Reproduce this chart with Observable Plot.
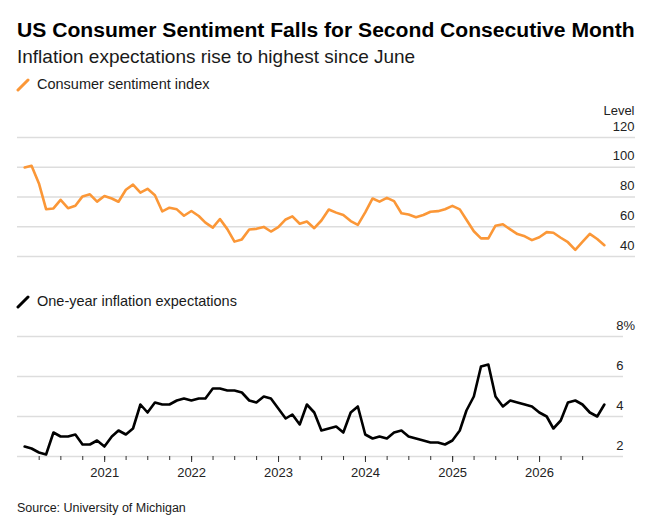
<!DOCTYPE html>
<html><head><meta charset="utf-8">
<script src="https://cdn.jsdelivr.net/npm/d3@7"></script>
<script src="https://cdn.jsdelivr.net/npm/@observablehq/plot@0.6"></script>
<style>
body{margin:0;background:#fff;font-family:"Liberation Sans",Arial,sans-serif;color:#111;}
#wrap{position:relative;width:645px;height:525px;overflow:hidden;}
.abs{position:absolute;left:17px;white-space:nowrap;line-height:1;}
#title{top:18.9px;font-size:21.1px;font-weight:bold;color:#000;}
#subtitle{top:47.2px;font-size:19px;color:#1a1a1a;}
.leg{font-size:14.5px;color:#1a1a1a;left:37px;}
#leg1{top:77px;}
#leg2{top:293.7px;}
#source{top:502px;font-size:12.5px;color:#1a1a1a;}
.sw{position:absolute;left:16px;}
#topChart{position:absolute;left:0;top:95px;}
#botChart{position:absolute;left:0;top:316px;}
</style></head>
<body><div id="wrap">
<div id="title" class="abs">US Consumer Sentiment Falls for Second Consecutive Month</div>
<div id="subtitle" class="abs">Inflation expectations rise to highest since June</div>
<svg class="sw" style="top:78px" width="14" height="14"><line x1="2" y1="12" x2="12" y2="2" stroke="#fb9737" stroke-width="3" stroke-linecap="round"/></svg>
<div id="leg1" class="abs leg">Consumer sentiment index</div>
<svg class="sw" style="top:295px" width="14" height="14"><line x1="2" y1="12" x2="12" y2="2" stroke="#000" stroke-width="3" stroke-linecap="round"/></svg>
<div id="leg2" class="abs leg">One-year inflation expectations</div>
<div id="topChart"></div>
<div id="botChart"></div>
<div id="source" class="abs">Source: University of Michigan</div>
</div>
<script>
// Monthly observations, Jan 2020 .. Sep 2026
const startMonth = "2020-01";
const sentiment = [
  99.8, 101.0, 89.1, 71.8, 72.3, 78.1, 72.5, 74.1, 80.4, 81.8, 76.9, 80.7,
  79.0, 76.8, 84.9, 88.3, 82.9, 85.5, 81.2, 70.3, 72.8, 71.7, 67.4, 70.6,
  67.2, 62.8, 59.4, 65.2, 58.4, 50.0, 51.5, 58.2, 58.6, 59.9, 56.8, 59.7,
  64.9, 67.0, 62.0, 63.5, 59.0, 64.2, 71.6, 69.5, 67.9, 63.8, 61.3, 69.7,
  79.0, 76.9, 79.4, 77.2, 69.1, 68.2, 66.4, 67.9, 70.1, 70.5, 71.8, 74.0,
  71.7, 64.7, 57.0, 52.2, 52.2, 60.7, 61.7, 58.2, 55.1, 53.6, 51.0, 52.9,
  56.4, 56.0, 52.6, 49.6, 44.5, 49.8, 55.2, 51.8, 47.6
];
const inflation = [
  2.5, 2.4, 2.2, 2.1, 3.2, 3.0, 3.0, 3.1, 2.6, 2.6, 2.8, 2.5,
  3.0, 3.3, 3.1, 3.4, 4.6, 4.2, 4.7, 4.6, 4.6, 4.8, 4.9, 4.8,
  4.9, 4.9, 5.4, 5.4, 5.3, 5.3, 5.2, 4.8, 4.7, 5.0, 4.9, 4.4,
  3.9, 4.1, 3.6, 4.6, 4.2, 3.3, 3.4, 3.5, 3.2, 4.2, 4.5, 3.1,
  2.9, 3.0, 2.9, 3.2, 3.3, 3.0, 2.9, 2.8, 2.7, 2.7, 2.6, 2.8,
  3.3, 4.3, 5.0, 6.5, 6.6, 5.0, 4.5, 4.8, 4.7, 4.6, 4.5, 4.2,
  4.0, 3.4, 3.8, 4.7, 4.8, 4.6, 4.2, 4.0, 4.6
];
const sentimentTicks = [40, 60, 80, 100, 120];
const inflationTicks = [2, 4, 6, 8];
const yearTicks = ["2021", "2022", "2023", "2024", "2025", "2026"];
const xDomain = ["2020-01-01", "2027-01-01"];

const t0 = new Date(startMonth + "-01T00:00:00Z");
// month-end dates
const monthEnd = i => d3.utcDay.offset(d3.utcMonth.offset(t0, i + 1), -1);
const sData = sentiment.map((v, i) => ({date: monthEnd(i), value: v}));
const iData = inflation.map((v, i) => ({date: monthEnd(i), value: v}));
const xd = xDomain.map(s => new Date(s + "T00:00:00Z"));
const yearDates = yearTicks.map(y => new Date(y + "-01-01T00:00:00Z"));
const quarterDates = d3.utcMonth.every(3).range(sData[0].date, sData[sData.length - 1].date);

const grid = "#dddddd";
const txt = "#222";
const W = 645, ML = 17, MR = 19;

const topPlot = Plot.plot({
  width: W, height: 170, marginLeft: ML, marginRight: MR, marginTop: 42, marginBottom: 9,
  style: {fontFamily: "Liberation Sans, Arial, sans-serif", overflow: "visible", background: "transparent"},
  x: {type: "utc", domain: xd, axis: null},
  y: {domain: [40, 120], axis: null},
  marks: [
    Plot.ruleY(sentimentTicks, {stroke: grid, strokeWidth: 1.5, insetRight: -9}),
    Plot.lineY(sData, {x: "date", y: "value", stroke: "#fb9737", strokeWidth: 2.6, strokeLinejoin: "round"}),
    Plot.text(sentimentTicks, {y: d => d, text: d => String(d), frameAnchor: "right", textAnchor: "end", lineAnchor: "bottom", dx: 8, dy: -7, fontSize: 13, fill: txt}),
    Plot.text(["Level"], {text: d => d, frameAnchor: "top-right", textAnchor: "end", lineAnchor: "bottom", dx: 8, dy: -23, fontSize: 13, fill: txt})
  ]
});
document.getElementById("topChart").appendChild(topPlot);

const botPlot = Plot.plot({
  width: W, height: 170, marginLeft: ML, marginRight: MR, marginTop: 20, marginBottom: 30,
  style: {fontFamily: "Liberation Sans, Arial, sans-serif", overflow: "visible", background: "transparent"},
  x: {type: "utc", domain: xd, axis: null},
  y: {domain: [2, 8], axis: null},
  marks: [
    Plot.ruleY(inflationTicks, {stroke: grid, strokeWidth: 1.5, insetRight: 3}),
    Plot.axisX({ticks: quarterDates, tickSize: 4, tickFormat: () => "", stroke: "#333"}),
    Plot.axisX({ticks: yearDates, tickSize: 6, tickPadding: 5, tickFormat: d3.utcFormat("%Y"), stroke: "#333", fill: txt, fontSize: 13}),
    Plot.lineY(iData, {x: "date", y: "value", stroke: "#000", strokeWidth: 2.6, strokeLinejoin: "round"}),
    Plot.text(inflationTicks, {y: d => d, text: d => String(d), frameAnchor: "right", textAnchor: "end", lineAnchor: "bottom", dx: -3, dy: -7, fontSize: 13, fill: txt}),
    Plot.text([8], {y: d => d, text: () => "%", frameAnchor: "right", textAnchor: "start", lineAnchor: "bottom", dx: -3, dy: -7, fontSize: 13, fill: txt})
  ]
});
document.getElementById("botChart").appendChild(botPlot);
</script>
</body></html>
